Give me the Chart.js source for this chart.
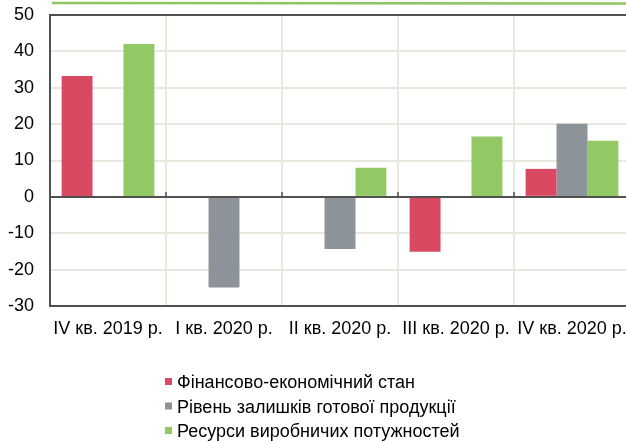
<!DOCTYPE html>
<html>
<head>
<meta charset="utf-8">
<script src="https://cdn.jsdelivr.net/npm/chart.js@4"></script>
<style>
  html, body { margin: 0; padding: 0; background: #fff; overflow: hidden; }
  #wrap { width: 626px; height: 441px; overflow: hidden; }
</style>
</head>
<body>
<div id="wrap"><canvas id="chart" width="630" height="441"></canvas></div>
<script>
var quarters = ['IV кв. 2019 р.', 'I кв. 2020 р.', 'II кв. 2020 р.', 'III кв. 2020 р.', 'IV кв. 2020 р.'];
var seriesNames = ['Фінансово-економічний стан', 'Рівень залишків готової продукції', 'Ресурси виробничих потужностей'];
var finState = [33.2, null, null, -15.1, 7.7];
var stockLevel = [null, -24.9, -14.3, null, 20.1];
var capacity = [42, null, 8, 16.6, 15.4];
var yTicks = [-30, -20, -10, 0, 10, 20, 30, 40, 50];

var colors = ['#d94a62', '#8c9399', '#92c965'];
var dark = '#505050';
var light = '#e8e8de';
var font = '"Liberation Sans", Arial, sans-serif';

// зелена лінія зверху, верхня рамка, засічки на нульовій лінії та легенда
var extras = {
    id: 'extras',
    afterDraw: function(chart) {
        var ctx = chart.ctx;
        var x = chart.scales.x, y = chart.scales.y;
        var area = chart.chartArea;
        ctx.save();
        ctx.strokeStyle = '#8fc462';
        ctx.lineWidth = 2.5;
        ctx.beginPath();
        ctx.moveTo(52, 3);
        ctx.lineTo(626, 3.5);
        ctx.stroke();

        ctx.strokeStyle = dark;
        ctx.lineWidth = 2;
        ctx.beginPath();
        ctx.moveTo(area.left, y.getPixelForValue(50));
        ctx.lineTo(area.right, y.getPixelForValue(50));
        ctx.stroke();

        var y0 = y.getPixelForValue(0);
        var half = (x.getPixelForTick(1) - x.getPixelForTick(0)) / 2;
        ctx.lineWidth = 1.5;
        for (var i = 0; i < quarters.length - 1; i++) {
            var bx = x.getPixelForTick(i) + half;
            ctx.beginPath();
            ctx.moveTo(bx, y0);
            ctx.lineTo(bx, y0 - 5);
            ctx.stroke();
        }

        ctx.font = '18px ' + font;
        ctx.textBaseline = 'alphabetic';
        chart.data.datasets.forEach(function(ds, i) {
            var ty = 388 + i * 24.5;
            ctx.fillStyle = ds.backgroundColor;
            ctx.fillRect(165, ty - 10, 7, 7);
            ctx.fillStyle = '#000';
            ctx.fillText(ds.label, 177, ty);
        });
        ctx.restore();
    }
};

new Chart(document.getElementById('chart'), {
    type: 'bar',
    data: {
        labels: quarters,
        datasets: [
            { label: seriesNames[0], data: finState, backgroundColor: colors[0] },
            { label: seriesNames[1], data: stockLevel, backgroundColor: colors[1] },
            { label: seriesNames[2], data: capacity, backgroundColor: colors[2] }
        ]
    },
    options: {
        responsive: false,
        animation: false,
        layout: { padding: { top: 15, left: 0, right: 0, bottom: 0 } },
        categoryPercentage: 0.8,
        barPercentage: 1.0,
        plugins: {
            legend: { display: false },
            tooltip: { enabled: false }
        },
        scales: {
            x: {
                grid: { color: light, lineWidth: 2, drawTicks: false, offset: true },
                border: { color: dark, width: 2 },
                ticks: {
                    color: '#000',
                    font: { family: font, size: 18 },
                    padding: 12,
                    maxRotation: 0,
                    autoSkip: false
                },
                afterFit: function(s) {
                    s.height = 135;
                    s.paddingLeft = 0;
                    s.paddingRight = 0;
                }
            },
            y: {
                min: -30,
                max: 50,
                afterBuildTicks: function(s) {
                    s.ticks = yTicks.map(function(v) { return { value: v }; });
                },
                grid: {
                    drawTicks: false,
                    color: function(c) {
                        return (c.tick && c.tick.value === 0) ? dark : light;
                    },
                    lineWidth: 2
                },
                border: { color: dark, width: 2 },
                ticks: {
                    color: '#000',
                    font: { family: font, size: 18 },
                    padding: 16
                },
                afterFit: function(s) {
                    s.width = 50;
                    s.paddingTop = 0;
                    s.paddingBottom = 0;
                }
            }
        }
    },
    plugins: [extras]
});
</script>
</body>
</html>
